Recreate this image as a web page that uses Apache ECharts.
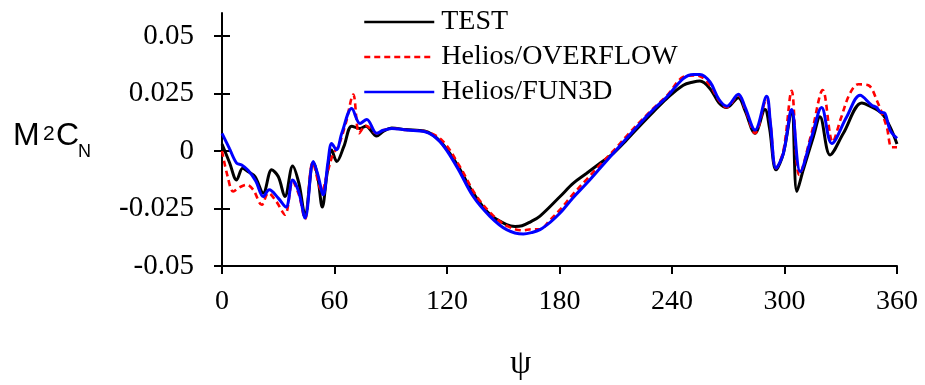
<!DOCTYPE html>
<html><head><meta charset="utf-8">
<script src="https://cdn.jsdelivr.net/npm/echarts@6/dist/echarts.min.js"></script>
<style>html,body{margin:0;padding:0;background:#fff}#c{width:925px;height:385px}</style>
</head><body><div id="c"></div>
<script>
const xTicks = [0, 60, 120, 180, 240, 300, 360];
const yTicks = [-0.05, -0.025, 0, 0.025, 0.05];
const seriesNames = ['TEST', 'Helios/OVERFLOW', 'Helios/FUN3D'];

const testData = [
[0,0.003],[4,-0.005],[7.8,-0.0126],[11,-0.0075],[14,-0.009],[17.6,-0.0111],[22,-0.0183],
[26.5,-0.0082],[30,-0.0111],[33.6,-0.0198],[37.7,-0.0065],[41,-0.014],[44.3,-0.0277],
[48.7,-0.0049],[51,-0.011],[53.5,-0.0244],[56,-0.01],[58.5,0.0004],[61.2,-0.0046],[65,0.002],
[69.2,0.0108],[73.6,0.0098],[76.7,0.0108],[82.5,0.0065],[86,0.0085],[90.5,0.010],[98,0.0093],
[108,0.0087],[116,0.0045],[125,-0.0053],[134,-0.0183],[143,-0.0277],[151.8,-0.032],
[156.3,-0.0328],[160,-0.0325],[164.3,-0.0309],[169.6,-0.0283],[180.3,-0.0198],
[187.4,-0.014],[194.5,-0.0097],[201.6,-0.0053],[208.7,-0.001],[215.8,0.0048],[222.9,0.011],
[230,0.017],[237.2,0.0228],[246,0.0286],[251.4,0.030],[254.9,0.0304],[260.3,0.0271],
[265,0.021],[269.2,0.0189],[275.4,0.0232],[278.9,0.0177],[284.3,0.0077],[289.6,0.018],
[292,0.01],[295.5,-0.0082],[299.4,-0.001],[303.8,0.0177],[306.6,-0.0176],[310,-0.0082],
[315.4,0.0062],[318.9,0.0149],[324.3,-0.0017],[331.4,0.0077],[341.2,0.0209],[345.6,0.0195],
[351.9,0.0163],[356.3,0.0105],[360,0.003]
];

const overflowData = [
[0,0.0],[3,-0.011],[6,-0.0176],[9.6,-0.0157],[13.2,-0.0147],[16.7,-0.0169],[21.2,-0.0234],
[24.7,-0.0183],[29,-0.022],[33.6,-0.0277],[37.7,-0.0133],[41,-0.019],[44.3,-0.0296],
[48.4,-0.005],[53.3,-0.0176],[56,-0.01],[59.4,-0.001],[62,0.002],[66,0.012],[70,0.0245],
[73.2,0.0077],[76.7,0.011],[82.5,0.0077],[86,0.009],[90.5,0.0098],[98.5,0.0091],[108.3,0.0085],
[117.5,0.0045],[126.5,-0.0063],[135.5,-0.0193],[144.5,-0.028],[152.5,-0.0328],[160.7,-0.0345],
[165,-0.034],[169.6,-0.034],[175,-0.030],[180.3,-0.0255],[187,-0.019],[194.5,-0.0123],
[201.6,-0.006],[208.7,0.0],[215.8,0.0065],[222.9,0.0127],[230,0.0185],[237.2,0.024],
[246,0.0322],[251.4,0.0328],[254.9,0.0325],[260.3,0.0285],[265,0.022],[269.2,0.019],
[275.4,0.0242],[278.9,0.0185],[284.3,0.0077],[290.5,0.0228],[292.5,0.012],[295.5,-0.0075],
[299.4,0.0],[303.8,0.0262],[307.9,-0.0104],[314.5,0.008],[320.4,0.0265],[325.7,0.004],
[330,0.014],[334.9,0.025],[339.4,0.029],[344.7,0.0286],[349.2,0.0221],[354.5,0.0105],
[357.2,0.0016],[360,0.0016]
];

const fun3dData = [
[0,0.0077],[4,0.001],[7.8,-0.0053],[10.5,-0.0061],[14,-0.0085],[18,-0.013],[22,-0.0198],
[25.2,-0.0169],[30,-0.0205],[34.1,-0.0244],[37.7,-0.0126],[41,-0.018],[44.3,-0.0291],
[48.7,-0.0046],[51,-0.01],[54,-0.019],[56.5,-0.005],[58.5,0.0033],[61,0.0005],[64,0.008],
[69.2,0.0185],[73.6,0.012],[77.2,0.0137],[82.5,0.0077],[86,0.009],[90.5,0.0098],[98.5,0.0091],
[108.3,0.0084],[116.3,0.004],[125.2,-0.0068],[134,-0.0198],[142.9,-0.0284],[151.8,-0.0342],
[160.7,-0.0361],[165,-0.0355],[169.6,-0.0342],[175,-0.031],[180.3,-0.027],[187,-0.0205],
[194.5,-0.014],[201.6,-0.0075],[208.7,-0.001],[215.8,0.0055],[222.9,0.012],[230,0.018],
[237.2,0.0235],[246,0.0315],[251.4,0.0333],[254.9,0.0333],[260.3,0.030],[265,0.0225],
[269.2,0.0195],[275.4,0.0247],[278.9,0.0192],[284.3,0.0091],[290.5,0.0238],[292.5,0.012],
[295.5,-0.0075],[299.4,-0.001],[303.8,0.018],[308.4,-0.009],[314.5,0.0062],[319.8,0.0189],
[325.2,0.0033],[333.2,0.0149],[340.3,0.0242],[346.5,0.0199],[349,0.019],[351,0.017],
[353.6,0.0163],[356.3,0.0091],[360,0.0055]
];

const serif = '"Liberation Serif", "DejaVu Serif", serif';
const sans = '"Liberation Sans", Arial, sans-serif';

const chart = echarts.init(document.getElementById('c'), null, {renderer: 'canvas'});
chart.setOption({
  animation: false,
  backgroundColor: '#ffffff',
  grid: {left: 222, right: 28, top: 13, bottom: 119, containLabel: false},
  legend: {
    orient: 'vertical', left: 358, top: 3, itemWidth: 70, itemHeight: 14, itemGap: 7,
    data: seriesNames,
    itemStyle: {opacity: 0, borderWidth: 0},
    lineStyle: {width: 2.5},
    textStyle: {fontFamily: serif, fontSize: 28, color: '#000', lineHeight: 28, padding: [0,0,0,2]}
  },
  xAxis: {
    type: 'value', min: 0, max: 360, interval: 60,
    axisLine: {show: true, onZero: false, lineStyle: {color: '#000', width: 2}},
    axisTick: {show: true, inside: false, length: 8, lineStyle: {color: '#000', width: 2}},
    axisLabel: {fontFamily: serif, fontSize: 28, color: '#000', margin: 22,
      customValues: xTicks},
    splitLine: {show: false}
  },
  yAxis: [{
    type: 'value', min: -0.05, max: 0.06,
    axisLine: {show: true, onZero: false, lineStyle: {color: '#000', width: 2}},
    axisTick: {show: true, inside: false, length: 8, lineStyle: {color: '#000', width: 2}, customValues: yTicks},
    axisLabel: {fontFamily: serif, fontSize: 29, color: '#000', margin: 28, customValues: yTicks,
      formatter: v => (Math.abs(v) < 1e-9 ? '0' : String(+v.toFixed(3)))},
    splitLine: {show: false}
  }, {
    type: 'value', min: -0.05, max: 0.06, position: 'left',
    axisLine: {show: false},
    axisTick: {show: true, inside: true, length: 8, lineStyle: {color: '#000', width: 2}, customValues: yTicks},
    axisLabel: {show: false},
    splitLine: {show: false}
  }],
  series: [
    {name: seriesNames[0], type: 'line', data: testData, symbol: 'none', smooth: 0.35, z: 3,
     lineStyle: {color: '#000000', width: 3}, itemStyle: {color: '#000000'}},
    {name: seriesNames[1], type: 'line', data: overflowData, symbol: 'none', smooth: 0.35, z: 4,
     lineStyle: {color: '#ff0000', width: 2.6, type: [6, 4]}, itemStyle: {color: '#ff0000'}},
    {name: seriesNames[2], type: 'line', data: fun3dData, symbol: 'none', smooth: 0.35, z: 5,
     lineStyle: {color: '#0000ff', width: 3}, itemStyle: {color: '#0000ff'}}
  ],
  graphic: [
    {type: 'text', left: 13, top: 120, style: {text: 'M', font: '32px ' + sans, fill: '#000'}},
    {type: 'text', left: 43, top: 124, style: {text: '2', font: '21px ' + sans, fill: '#000'}},
    {type: 'text', left: 56, top: 120, style: {text: 'C', font: '32px ' + sans, fill: '#000'}},
    {type: 'text', left: 78, top: 143, style: {text: 'N', font: '18px ' + sans, fill: '#000'}},
    {type: 'text', left: 510, top: 347, style: {text: 'ψ', font: '34px ' + serif, fill: '#000'}}
  ]
});
</script></body></html>
